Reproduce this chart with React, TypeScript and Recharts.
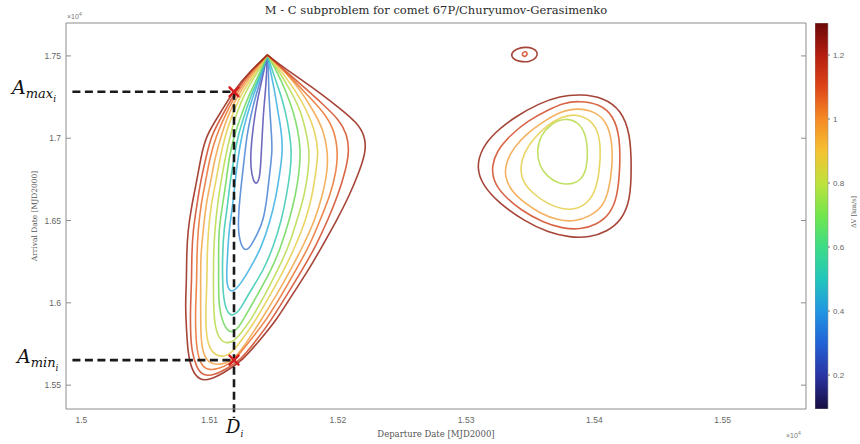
import React from 'react'
import { ComposedChart, Line, XAxis, YAxis, ReferenceLine, Scatter, BarChart, Bar } from 'recharts'

type Pt = [number, number]

// axes (MJD2000, shown as x 10^4)
const xDomain: [number, number] = [14988, 15565]
const yDomain: [number, number] = [15355, 17700]
const xTicks = [15000, 15100, 15200, 15300, 15400, 15500]
const yTicks = [15500, 16000, 16500, 17000, 17500]

// ΔV colour bar [km/s]
const dvRange: [number, number] = [0.094, 1.3]
const dvTicks = [0.2, 0.4, 0.6, 0.8, 1, 1.2]
const dvStopValues = [1.3, 1.2, 1.1, 1.0, 0.9, 0.8, 0.7, 0.6, 0.5, 0.4, 0.3, 0.2, 0.094]
const dvStopColors = ['#6a0808', '#b41e10', '#de4518', '#f58a25', '#f5c232', '#bfe23c', '#72e64c', '#3cdc86', '#22c6bc', '#2196e2', '#2262d6', '#2a34a4', '#170d40']

// launch window picked out on the plot
const departure = 15119
const arrivalMax = 17282
const arrivalMin = 15652
const guideStart = 14993
const guideEnd = 15300

// left family: every level runs apex -> left side -> bottom -> right side -> apex
const dv030: Pt[] = [[15145,17506],[15141,17361],[15137,17227],[15134,17076],[15132,16924],[15132,16815],[15134,16742],[15136,16718],[15139,16748],[15140,16864],[15141,17015],[15142,17167],[15144,17318],[15145,17506]]
const dv040: Pt[] = [[15145,17506],[15140,17361],[15136,17258],[15132,17136],[15129,17015],[15127,16876],[15125,16742],[15123,16591],[15122,16452],[15124,16355],[15128,16312],[15132,16342],[15137,16415],[15142,16500],[15145,16652],[15147,16803],[15149,16924],[15148,17045],[15147,17167],[15146,17288],[15146,17397],[15145,17506]]
const dv050: Pt[] = [[15145,17506],[15139,17367],[15134,17258],[15129,17136],[15125,17015],[15122,16876],[15120,16742],[15118,16591],[15115,16439],[15114,16288],[15113,16167],[15114,16082],[15118,16064],[15124,16112],[15132,16215],[15140,16330],[15147,16488],[15152,16652],[15155,16803],[15157,16924],[15156,17045],[15153,17167],[15151,17276],[15148,17385],[15145,17506]]
const dv060: Pt[] = [[15145,17506],[15139,17373],[15132,17258],[15127,17136],[15122,17015],[15119,16876],[15116,16742],[15114,16591],[15111,16439],[15110,16288],[15110,16136],[15111,16003],[15115,15918],[15121,15930],[15126,15991],[15133,16088],[15142,16197],[15150,16348],[15156,16500],[15160,16652],[15163,16803],[15164,16924],[15162,17045],[15159,17167],[15155,17276],[15150,17385],[15145,17506]]
const dv070: Pt[] = [[15145,17506],[15138,17379],[15131,17270],[15125,17148],[15119,17015],[15115,16876],[15113,16742],[15110,16591],[15107,16439],[15107,16288],[15107,16136],[15107,15985],[15110,15882],[15115,15815],[15121,15833],[15126,15894],[15137,16045],[15148,16197],[15156,16348],[15162,16500],[15167,16652],[15170,16803],[15171,16924],[15169,17045],[15165,17167],[15160,17276],[15153,17397],[15145,17506]]
const dv080: Pt[] = [[15145,17506],[15136,17385],[15128,17282],[15121,17155],[15116,17015],[15112,16876],[15109,16742],[15106,16591],[15104,16439],[15103,16288],[15103,16136],[15103,15985],[15104,15864],[15107,15785],[15113,15748],[15120,15773],[15125,15821],[15132,15894],[15143,16045],[15153,16197],[15162,16348],[15168,16500],[15174,16652],[15177,16803],[15178,16924],[15175,17045],[15171,17167],[15164,17276],[15155,17397],[15145,17506]]
const dv090: Pt[] = [[15145,17506],[15135,17391],[15126,17288],[15118,17155],[15112,17015],[15108,16876],[15105,16742],[15101,16591],[15099,16439],[15098,16288],[15098,16136],[15097,15985],[15097,15833],[15099,15736],[15104,15682],[15111,15670],[15118,15700],[15126,15785],[15136,15894],[15147,16045],[15158,16197],[15167,16348],[15175,16500],[15180,16652],[15183,16803],[15185,16924],[15182,17045],[15176,17167],[15167,17288],[15157,17397],[15145,17506]]
const dv100: Pt[] = [[15145,17506],[15134,17397],[15124,17288],[15115,17155],[15109,17015],[15104,16876],[15101,16742],[15097,16591],[15095,16439],[15093,16288],[15093,16136],[15093,15985],[15093,15833],[15094,15724],[15097,15652],[15104,15621],[15113,15633],[15120,15664],[15130,15773],[15140,15894],[15152,16045],[15163,16197],[15173,16348],[15182,16500],[15188,16652],[15192,16803],[15192,16924],[15189,17045],[15181,17167],[15171,17288],[15160,17397],[15145,17506]]
const dv110: Pt[] = [[15145,17506],[15133,17403],[15122,17288],[15113,17155],[15105,17015],[15100,16876],[15097,16742],[15093,16591],[15091,16439],[15090,16288],[15090,16136],[15089,15985],[15089,15833],[15090,15712],[15093,15627],[15098,15591],[15107,15597],[15116,15633],[15122,15676],[15133,15785],[15144,15894],[15156,16045],[15167,16197],[15178,16348],[15186,16500],[15194,16652],[15199,16803],[15200,16924],[15197,17058],[15188,17167],[15176,17264],[15163,17373],[15145,17506]]
const dv120: Pt[] = [[15145,17506],[15132,17409],[15121,17294],[15111,17155],[15101,17015],[15097,16876],[15093,16742],[15090,16591],[15087,16439],[15086,16288],[15086,16136],[15085,15985],[15085,15833],[15086,15700],[15090,15603],[15095,15555],[15104,15561],[15114,15603],[15124,15652],[15136,15767],[15148,15894],[15160,16045],[15172,16197],[15183,16348],[15192,16500],[15200,16652],[15206,16803],[15209,16924],[15207,17027],[15201,17112],[15188,17209],[15175,17300],[15161,17397],[15145,17506]]
const dv130: Pt[] = [[15145,17506],[15132,17409],[15119,17294],[15108,17148],[15097,17015],[15093,16876],[15090,16742],[15086,16591],[15083,16439],[15082,16288],[15082,16136],[15081,15985],[15082,15833],[15083,15700],[15086,15591],[15092,15530],[15100,15530],[15112,15579],[15126,15652],[15139,15773],[15152,15894],[15164,16045],[15177,16197],[15188,16348],[15199,16500],[15209,16652],[15217,16803],[15222,16924],[15221,17015],[15215,17094],[15202,17179],[15188,17264],[15173,17348],[15158,17427],[15145,17506]]

// right family: closed loops round the second minimum
const rtIn: Pt[] = [[15377,17124],[15387,17100],[15393,17033],[15395,16924],[15394,16815],[15390,16748],[15382,16718],[15372,16724],[15363,16767],[15357,16833],[15355,16924],[15358,17015],[15366,17088]]
const rt2: Pt[] = [[15385,17148],[15396,17118],[15403,17045],[15405,16936],[15404,16803],[15401,16682],[15395,16609],[15386,16567],[15375,16567],[15363,16603],[15352,16664],[15344,16736],[15342,16821],[15345,16912],[15353,17003],[15363,17076],[15374,17130]]
const rt3: Pt[] = [[15387,17185],[15401,17161],[15410,17094],[15414,16973],[15414,16821],[15411,16670],[15406,16579],[15396,16524],[15385,16494],[15372,16500],[15358,16542],[15345,16609],[15335,16682],[15330,16767],[15331,16852],[15337,16942],[15347,17027],[15360,17100],[15373,17161]]
const rt4: Pt[] = [[15388,17227],[15404,17209],[15415,17136],[15420,17003],[15420,16821],[15418,16645],[15412,16536],[15402,16476],[15389,16445],[15375,16452],[15360,16488],[15343,16561],[15329,16652],[15321,16742],[15320,16833],[15324,16924],[15334,17015],[15348,17106],[15364,17173],[15376,17215]]
const rtOut: Pt[] = [[15389,17268],[15407,17249],[15421,17170],[15428,17027],[15429,16821],[15428,16621],[15421,16500],[15410,16433],[15396,16397],[15381,16397],[15364,16427],[15346,16494],[15326,16603],[15313,16712],[15308,16821],[15312,16936],[15322,17033],[15338,17130],[15357,17212],[15373,17256]]

// small island near the top
const islIn: Pt[] = [[15346,17530],[15348,17518],[15347,17500],[15345,17494],[15343,17512]]
const islOut: Pt[] = [[15346,17555],[15352,17548],[15356,17524],[15355,17488],[15350,17464],[15342,17464],[15336,17482],[15335,17518],[15339,17542]]

const leftFamily = [
  { level: 0.3, pts: dv030 }, { level: 0.4, pts: dv040 }, { level: 0.5, pts: dv050 },
  { level: 0.6, pts: dv060 }, { level: 0.7, pts: dv070 }, { level: 0.8, pts: dv080 },
  { level: 0.9, pts: dv090 }, { level: 1.0, pts: dv100 }, { level: 1.1, pts: dv110 },
  { level: 1.2, pts: dv120 }, { level: 1.3, pts: dv130 },
]
const loops = [
  { level: 0.8, pts: rtIn }, { level: 0.9, pts: rt2 }, { level: 1.0, pts: rt3 },
  { level: 1.2, pts: rt4 }, { level: 1.3, pts: rtOut },
  { level: 1.2, pts: islIn }, { level: 1.3, pts: islOut },
]
const crossMarks = [{ x: departure, y: arrivalMax }, { x: departure, y: arrivalMin }]
const colorbarData = [{ name: 'dv', range: dvRange }]

const levelColor: Record<string, string> = {
  '0.3': '#5b55b5', '0.4': '#4f86d6', '0.5': '#3fb2e2', '0.6': '#3fcbb5',
  '0.7': '#72d95f', '0.8': '#b9dc52', '0.9': '#e6cf50', '1': '#f2a64a',
  '1.1': '#ec7634', '1.2': '#d4502e', '1.3': '#9a2a1c',
}

const toPts = (pts: Pt[]) => pts.map(([x, y]) => ({ x, y }))
const fmt4 = (v: number) => String(parseFloat((v / 10000).toFixed(3)))

const tickFont = { fontSize: 8.5, fill: '#666', fontFamily: 'Liberation Sans, Arial, sans-serif' }
const frame = '#8c8c8c'
const serif = "'DejaVu Serif', serif"
const noLabel = () => <g />

const renderCross = (props: any) => {
  const { cx, cy } = props
  const r = 4.5
  return (
    <g stroke="#d42020" strokeWidth={2.4} strokeLinecap="round">
      <line x1={cx - r} y1={cy - r} x2={cx + r} y2={cy + r} />
      <line x1={cx - r} y1={cy + r} x2={cx + r} y2={cy - r} />
    </g>
  )
}

export default function App() {
  return (
    <div style={{ position: 'absolute', left: 0, top: 0, width: 860, height: 444, background: '#fff' }}>
      <ComposedChart width={860} height={444} margin={{ top: 23, right: 54, bottom: 13, left: 16 }}>
        <XAxis type="number" dataKey="x" domain={xDomain} allowDataOverflow ticks={xTicks} interval={0}
          tickFormatter={fmt4} tickLine={false} tickSize={0} tickMargin={8} height={22}
          axisLine={{ stroke: frame }} tick={tickFont} />
        <XAxis xAxisId="top" orientation="top" mirror type="number" domain={xDomain} allowDataOverflow
          ticks={xTicks} interval={0} tick={noLabel} tickSize={5} tickLine={{ stroke: frame }} axisLine={{ stroke: frame }} />
        <XAxis xAxisId="bottomIn" orientation="bottom" mirror type="number" domain={xDomain} allowDataOverflow
          ticks={xTicks} interval={0} tick={noLabel} tickSize={5} tickLine={{ stroke: frame }} axisLine={false} />
        <YAxis type="number" dataKey="y" domain={yDomain} allowDataOverflow ticks={yTicks} interval={0}
          tickFormatter={fmt4} tickLine={false} tickSize={0} tickMargin={5} width={50}
          axisLine={{ stroke: frame }} tick={tickFont} />
        <YAxis yAxisId="right" orientation="right" mirror type="number" domain={yDomain} allowDataOverflow
          ticks={yTicks} interval={0} tick={noLabel} tickSize={5} tickLine={{ stroke: frame }} axisLine={{ stroke: frame }} />
        <YAxis yAxisId="leftIn" orientation="left" mirror type="number" domain={yDomain} allowDataOverflow
          ticks={yTicks} interval={0} tick={noLabel} tickSize={5} tickLine={{ stroke: frame }} axisLine={false} />

        {[...leftFamily, ...loops].map((c, i) => (
          <Line key={`c-${i}`} data={toPts(c.pts)} dataKey="y" type={i < leftFamily.length ? 'basis' : 'basisClosed'}
            stroke={levelColor[String(c.level)]} strokeWidth={1.6} strokeOpacity={0.88}
            dot={false} activeDot={false} isAnimationActive={false} legendType="none" />
        ))}

        <ReferenceLine segment={[{ x: guideStart, y: arrivalMax }, { x: departure, y: arrivalMax }]}
          stroke="#1a1a1a" strokeWidth={2.6} strokeDasharray="8 4.5" ifOverflow="visible" />
        <ReferenceLine segment={[{ x: guideStart, y: arrivalMin }, { x: departure, y: arrivalMin }]}
          stroke="#1a1a1a" strokeWidth={2.6} strokeDasharray="8 4.5" ifOverflow="visible" />
        <ReferenceLine segment={[{ x: departure, y: arrivalMax }, { x: departure, y: guideEnd }]}
          stroke="#1a1a1a" strokeWidth={2.6} strokeDasharray="8 4.5" ifOverflow="visible" />

        <Scatter data={crossMarks} shape={renderCross} isAnimationActive={false} legendType="none" />
      </ComposedChart>

      {/* colour bar */}
      <div style={{ position: 'absolute', left: 815, top: 0 }}>
        <BarChart width={45} height={444} data={colorbarData} margin={{ top: 23, right: 0, bottom: 35, left: 0 }}
          barCategoryGap={0} barGap={0}>
          <defs>
            <linearGradient id="dvGrad" x1="0" y1="0" x2="0" y2="1">
              {dvStopValues.map((v, i) => (
                <stop key={i} offset={(dvRange[1] - v) / (dvRange[1] - dvRange[0])} stopColor={dvStopColors[i]} />
              ))}
            </linearGradient>
          </defs>
          <XAxis dataKey="name" hide />
          <YAxis orientation="right" type="number" domain={dvRange} allowDataOverflow ticks={dvTicks} interval={0}
            width={32} tickSize={2} tickMargin={3} axisLine={false} tickLine={{ stroke: '#777' }}
            tick={{ fontSize: 8, fill: '#666', fontFamily: 'Liberation Sans, Arial, sans-serif' }} />
          <Bar dataKey="range" fill="url(#dvGrad)" stroke="#999" strokeWidth={0.6} isAnimationActive={false} />
        </BarChart>
      </div>

      {/* titles and annotations */}
      <svg width={860} height={444} style={{ position: 'absolute', left: 0, top: 0, pointerEvents: 'none' }}>
        <text x={436} y={14} textAnchor="middle" fontFamily={serif} fontSize={11.5} fill="#2a2a2a">
          M - C subproblem for comet 67P/Churyumov-Gerasimenko
        </text>
        <text x={67} y={19} fontFamily="Liberation Sans, Arial, sans-serif" fontSize={7} fill="#777">
          ×10<tspan dy={-3} fontSize={5}>4</tspan>
        </text>
        <text x={786} y={438} fontFamily="Liberation Sans, Arial, sans-serif" fontSize={7} fill="#777">
          ×10<tspan dy={-3} fontSize={5}>4</tspan>
        </text>
        <text x={436} y={437} textAnchor="middle" fontFamily={serif} fontSize={8.5} fill="#555">
          Departure Date [MJD2000]
        </text>
        <text transform="translate(37,216) rotate(-90)" textAnchor="middle" fontFamily={serif} fontSize={7.5} fill="#555">
          Arrival Date [MJD2000]
        </text>
        <text transform="translate(856,212) rotate(-90)" textAnchor="middle" fontFamily={serif} fontSize={6.5} fill="#666">
          ΔV [km/s]
        </text>

        <text x={12} y={94} fontFamily={serif} fontStyle="italic" fontSize={19} fill="#111">
          A<tspan fontSize={13} dy={4}>max</tspan><tspan fontSize={9} dy={4}>i</tspan>
        </text>
        <text x={17} y={363} fontFamily={serif} fontStyle="italic" fontSize={19} fill="#111">
          A<tspan fontSize={13} dy={4}>min</tspan><tspan fontSize={9} dy={4}>i</tspan>
        </text>
        <text x={226} y={433} fontFamily={serif} fontStyle="italic" fontSize={18} fill="#111">
          D<tspan fontSize={9} dy={4}>i</tspan>
        </text>
      </svg>
    </div>
  )
}
